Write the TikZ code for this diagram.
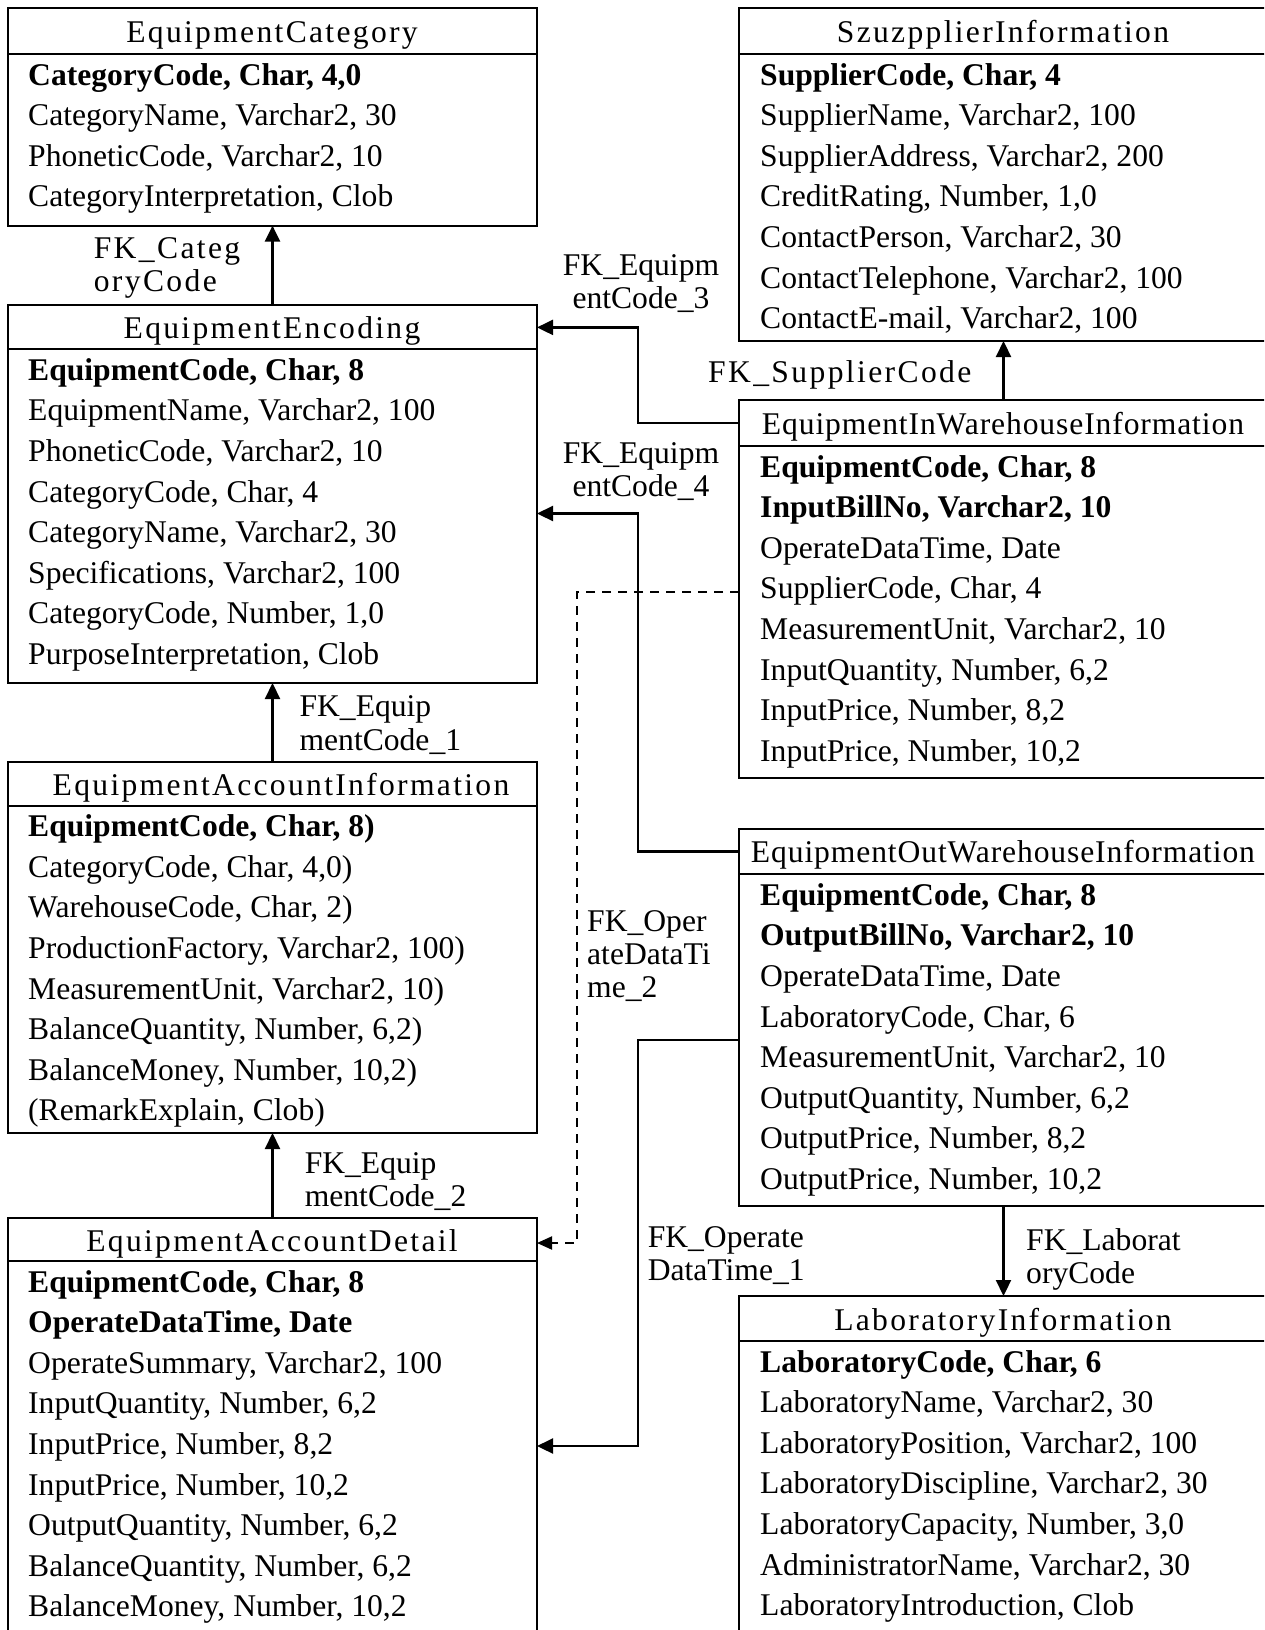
\documentclass[tikz,border=0pt]{standalone}
\usepackage{fontspec}
\setmainfont{Liberation Serif}
\newfontfamily\ttlfont[LetterSpace=7.3]{Liberation Serif}
\newfontfamily\ttlfontn[LetterSpace=2.8]{Liberation Serif}
\newfontfamily\lblfont[LetterSpace=7.5]{Liberation Serif}
\usetikzlibrary{arrows.meta}
\newcommand\fs{\fontsize{31.6}{33.3}\selectfont}
\newcommand\vlines[1]{\vtop{\halign{##\hfil\cr #1\crcr}}}
\newcommand\vlinesc[1]{\vtop{\halign{\hfil##\hfil\cr #1\crcr}}}
\newcommand\tablerows[4]{%
  \foreach \t [count=\i from 0] in {#4} {\node[rowtext] (#1-\i) at (#2, {#3+40.6*\i}) {\t};}}
\begin{document}
\begin{tikzpicture}[x=1pt,y=-1pt,
  tbox/.style={draw, line width=2pt, inner sep=0pt, outer sep=0pt, anchor=north west, minimum width=529pt},
  rowtext/.style={anchor=base west, inner sep=0pt, font=\fs},
  ttl/.style={anchor=base, inner sep=0pt, font=\fs\ttlfont},
  ttln/.style={anchor=base, inner sep=0pt, font=\fs\ttlfontn},
  lbl/.style={anchor=base west, inner sep=0pt, font=\fs},
  fk/.style={line width=2.2pt, -{Triangle[length=16pt,width=15pt]}},
  fkd/.style={line width=2pt, -{Triangle[length=15pt,width=13pt]}, dash pattern=on 9pt off 7pt},
  hline/.style={line width=2pt}]
\useasboundingbox (0,0) rectangle (1264,1630);
\clip (0,0) rectangle (1264,1630);

% ---------- boxes ----------
\node[tbox, minimum height=217.6pt] (EC)  at (8,8) {};
\node[tbox, minimum height=378.4pt] (EE)  at (8,304.6) {};
\node[tbox, minimum height=371pt]   (EAI) at (8,762) {};
\node[tbox, minimum height=500pt]   (EAD) at (8,1218) {};
\node[tbox, minimum height=333pt]   (SI)  at (739,8) {};
\node[tbox, minimum height=377.6pt] (EIW) at (739,400) {};
\node[tbox, minimum height=377.5pt] (EOW) at (739,828.5) {};
\node[tbox, minimum height=400pt]   (LI)  at (739,1296) {};

% header lines
\draw[hline] (8,54) -- (537,54);
\draw[hline] (8,349.3) -- (537,349.3);
\draw[hline] (8,805.6) -- (537,805.6);
\draw[hline] (8,1261) -- (537,1261);
\draw[hline] (739,54) -- (1268,54);
\draw[hline] (739,446) -- (1268,446);
\draw[hline] (739,874.2) -- (1268,874.2);
\draw[hline] (739,1341) -- (1268,1341);

% titles
\node[ttl] (ECt)  at (272,42.5) {EquipmentCategory};
\node[ttl] (EEt)  at (272,338.5) {EquipmentEncoding};
\node[ttl] (EAIt) at (281,795.3) {EquipmentAccountInformation};
\node[ttl] (EADt) at (272,1251) {EquipmentAccountDetail};
\node[ttl] (SIt)  at (1003,42.5) {SzuzpplierInformation};
\node[ttln] (EIWt) at (1003,434.5) {EquipmentInWarehouseInformation};
\node[ttln] (EOWt) at (1003,862.9) {EquipmentOutWarehouseInformation};
\node[ttl] (LIt)  at (1003,1330) {LaboratoryInformation};

% rows
\tablerows{ec}{28}{85}{{\textbf{CategoryCode, Char, 4,0}},{CategoryName, Varchar2, 30},{PhoneticCode, Varchar2, 10},{CategoryInterpretation, Clob}}
\tablerows{ee}{28}{380.3}{{\textbf{EquipmentCode, Char, 8}},{EquipmentName, Varchar2, 100},{PhoneticCode, Varchar2, 10},{CategoryCode, Char, 4},{CategoryName, Varchar2, 30},{Specifications, Varchar2, 100},{CategoryCode, Number, 1,0},{PurposeInterpretation, Clob}}
\tablerows{eai}{28}{836.6}{{\textbf{EquipmentCode, Char, 8)}},{CategoryCode, Char, 4,0)},{WarehouseCode, Char, 2)},{ProductionFactory, Varchar2, 100)},{MeasurementUnit, Varchar2, 10)},{BalanceQuantity, Number, 6,2)},{BalanceMoney, Number, 10,2)},{(RemarkExplain, Clob)}}
\tablerows{ead}{28}{1292}{{\textbf{EquipmentCode, Char, 8}},{\textbf{OperateDataTime, Date}},{OperateSummary, Varchar2, 100},{InputQuantity, Number, 6,2},{InputPrice, Number, 8,2},{InputPrice, Number, 10,2},{OutputQuantity, Number, 6,2},{BalanceQuantity, Number, 6,2},{BalanceMoney, Number, 10,2}}
\tablerows{si}{760}{85}{{\textbf{SupplierCode, Char, 4}},{SupplierName, Varchar2, 100},{SupplierAddress, Varchar2, 200},{CreditRating, Number, 1,0},{ContactPerson, Varchar2, 30},{ContactTelephone, Varchar2, 100},{ContactE-mail, Varchar2, 100}}
\tablerows{eiw}{760}{477}{{\textbf{EquipmentCode, Char, 8}},{\textbf{InputBillNo, Varchar2, 10}},{OperateDataTime, Date},{SupplierCode, Char, 4},{MeasurementUnit, Varchar2, 10},{InputQuantity, Number, 6,2},{InputPrice, Number, 8,2},{InputPrice, Number, 10,2}}
\tablerows{eow}{760}{905.2}{{\textbf{EquipmentCode, Char, 8}},{\textbf{OutputBillNo, Varchar2, 10}},{OperateDataTime, Date},{LaboratoryCode, Char, 6},{MeasurementUnit, Varchar2, 10},{OutputQuantity, Number, 6,2},{OutputPrice, Number, 8,2},{OutputPrice, Number, 10,2}}
\tablerows{li}{760}{1372}{{\textbf{LaboratoryCode, Char, 6}},{LaboratoryName, Varchar2, 30},{LaboratoryPosition, Varchar2, 100},{LaboratoryDiscipline, Varchar2, 30},{LaboratoryCapacity, Number, 3,0},{AdministratorName, Varchar2, 30},{LaboratoryIntroduction, Clob}}

% ---------- connectors ----------
\coordinate (y3s) at (0,423);
\coordinate (y3e) at (0,327.4);
\coordinate (y4s) at (0,851.4);
\coordinate (y4e) at (0,513.5);
\coordinate (yds) at (0,592);
\coordinate (yde) at (0,1243);
\coordinate (y1s) at (0,1040);
\coordinate (y1e) at (0,1446);
\coordinate (xj) at (638,0);
\coordinate (xd) at (577,0);

\draw[fk] (EE.north) -- (EC.south);
\draw[fk] (EAI.north) -- (EE.south);
\draw[fk] (EAD.north) -- (EAI.south);
\draw[fk] (EIW.north) -- (SI.south);
\draw[fk] (EOW.south) -- (LI.north);

\draw[fk] (EIW.west |- y3s) -- (xj |- y3s) -- (xj |- y3e) -- (EE.east |- y3e);
\draw[fk] (EOW.west |- y4s) -- (xj |- y4s) -- (xj |- y4e) -- (EE.east |- y4e);
\draw[fkd] (EIW.west |- yds) -- (xd |- yds) -- (xd |- yde) -- (EAD.east |- yde);
\draw[fk] (EOW.west |- y1s) -- (xj |- y1s) -- (xj |- y1e) -- (EAD.east |- y1e);

% ---------- labels ----------
\node[lbl, font=\fs\lblfont] (lCat) at (93.6,258.4) {\vlines{FK\_Categ\cr oryCode}};
\node[lbl] (l1) at (299.4,716.8) {\vlines{FK\_Equip\cr mentCode\_1}};
\node[lbl] (l2) at (304.6,1173) {\vlines{FK\_Equip\cr mentCode\_2}};
\node[anchor=base, inner sep=0pt, font=\fs] (l3) at (641,275) {\vlinesc{FK\_Equipm\cr entCode\_3}};
\node[anchor=base, inner sep=0pt, font=\fs] (l4) at (641,463) {\vlinesc{FK\_Equipm\cr entCode\_4}};
\node[lbl] (lOp2) at (587,931) {\vlines{FK\_Oper\cr ateDataTi\cr me\_2}};
\node[lbl, font=\fs\lblfont] (lSup) at (708,382) {FK\_SupplierCode};
\node[lbl] (lOp1) at (647.6,1247) {\vlines{FK\_Operate\cr DataTime\_1}};
\node[lbl] (lLab) at (1026,1250) {\vlines{FK\_Laborat\cr oryCode}};
\end{tikzpicture}
\end{document}
